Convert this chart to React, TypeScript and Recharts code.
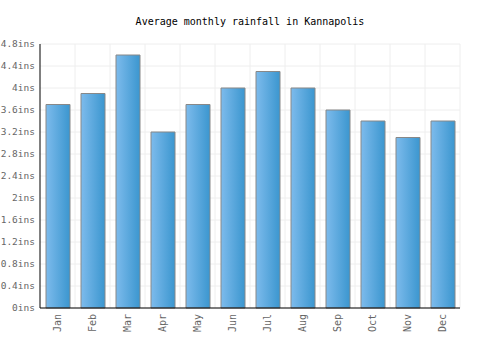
import React from "react";
import { BarChart, Bar, XAxis, YAxis, CartesianGrid } from "recharts";

const months = ["Jan", "Feb", "Mar", "Apr", "May", "Jun", "Jul", "Aug", "Sep", "Oct", "Nov", "Dec"];
const rainfall = [3.7, 3.9, 4.6, 3.2, 3.7, 4.0, 4.3, 4.0, 3.6, 3.4, 3.1, 3.4];
const yTicks = [0, 0.4, 0.8, 1.2, 1.6, 2, 2.4, 2.8, 3.2, 3.6, 4, 4.4, 4.8];
const title = "Average monthly rainfall in Kannapolis";

const data = months.map((m, i) => ({ month: m, value: rainfall[i] }));
const FONT = "'DejaVu Sans Mono', monospace";

const XTick = (props: any) => {
  const { x, y, payload } = props;
  return (
    <text
      x={x}
      y={y}
      dy={3.5}
      transform={`rotate(-90, ${x}, ${y})`}
      textAnchor="end"
      fill="#666"
      fontSize={10}
      fontFamily={FONT}
    >
      {payload.value}
    </text>
  );
};

export default function App() {
  return (
    <div style={{ position: "absolute", left: 0, top: 0, width: 500, height: 350, background: "#fff" }}>
      <div
        style={{
          position: "absolute",
          top: 16,
          left: 0,
          width: 500,
          textAlign: "center",
          fontFamily: FONT,
          fontSize: 10,
          color: "#000",
        }}
      >
        {title}
      </div>
      <BarChart
        width={500}
        height={350}
        data={data}
        margin={{ top: 44, right: 40, bottom: 0, left: 0 }}
        barCategoryGap={0}
      >
        <defs>
          <linearGradient id="barGrad" x1="0" y1="0" x2="1" y2="0">
            <stop offset="0%" stopColor="#7dbbec" />
            <stop offset="100%" stopColor="#3b96cf" />
          </linearGradient>
        </defs>
        <CartesianGrid
          stroke="#eeeeee"
          strokeWidth={1}
          verticalCoordinatesGenerator={({ offset }: any) =>
            months.map((_, i) => offset.left + ((i + 1) * offset.width) / months.length)
          }
        />
        <XAxis
          dataKey="month"
          axisLine={{ stroke: "#000", strokeWidth: 1 }}
          tickLine={false}
          height={42}
          tick={<XTick />}
          tickSize={4}
          tickMargin={2}
          interval={0}
        />
        <YAxis
          domain={[0, 4.8]}
          ticks={yTicks}
          tickFormatter={(v: number) => `${v}ins`}
          axisLine={{ stroke: "#000", strokeWidth: 1 }}
          tickLine={false}
          width={40}
          tickSize={4}
          tickMargin={1}
          tick={{ fill: "#666", fontSize: 9.5, fontFamily: FONT }}
          interval={0}
        />
        <Bar
          dataKey="value"
          fill="url(#barGrad)"
          stroke="#888"
          strokeWidth={1}
          barSize={24}
          isAnimationActive={false}
        />
      </BarChart>
    </div>
  );
}
